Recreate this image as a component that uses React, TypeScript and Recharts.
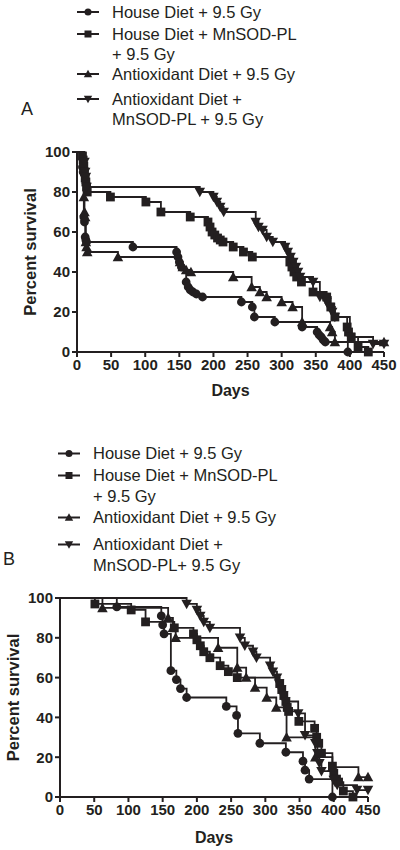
import { Line, LineChart, XAxis, YAxis } from 'recharts';

const ink = '#231f20';
const font = '"Liberation Sans", Arial, Helvetica, sans-serif';

const xTicks = [0, 50, 100, 150, 200, 250, 300, 350, 400, 450];
const yTicks = [0, 20, 40, 60, 80, 100];

const legendA = ['House Diet + 9.5 Gy', 'House Diet + MnSOD-PL\n+ 9.5 Gy', 'Antioxidant Diet + 9.5 Gy', 'Antioxidant Diet +\nMnSOD-PL + 9.5 Gy'];
const legendB = ['House Diet + 9.5 Gy', 'House Diet + MnSOD-PL\n+ 9.5 Gy', 'Antioxidant Diet + 9.5 Gy', 'Antioxidant Diet +\nMnSOD-PL+ 9.5 Gy'];

// panel A (days, percent survival)
const aHouseDays = [0, 8, 9, 10, 11, 12, 13, 14, 82, 146, 148, 150, 153, 160, 163, 166, 170, 175, 184, 241, 257, 260, 290, 330, 352, 355, 358, 361, 364, 397];
const aHouseSurv = [100, 92.5, 90, 67.5, 65, 57.5, 56, 55, 52.5, 50, 47.5, 45, 42.5, 35, 32.5, 31, 30, 29, 27.5, 25, 22.5, 17.5, 15, 12.5, 10, 8.5, 7.5, 6, 5, 0];
const aMnDays = [0, 8, 9, 10, 11, 12, 13, 14, 15, 49, 101, 123, 166, 192, 195, 198, 202, 206, 210, 214, 229, 244, 257, 312, 315, 318, 322, 329, 346, 366, 372, 378, 396, 398, 402, 412, 427];
const aMnSurv = [100, 98, 96, 93, 90, 87, 85, 82.5, 80, 77.5, 75, 70, 67.5, 65, 62.5, 60, 58.5, 57, 56, 55, 52.5, 50, 47.5, 45, 42.5, 40, 37.5, 35, 30, 27.5, 22.5, 17.5, 12.5, 10, 7.5, 2.5, 0];
const aAoxDays = [0, 10, 11, 12, 13, 14, 15, 60, 151, 155, 160, 167, 229, 256, 268, 278, 300, 316, 330, 371, 374, 378, 450];
const aAoxSurv = [100, 77.5, 70, 67.5, 55, 52.5, 50, 47.5, 45, 42.5, 41, 40, 37.5, 32.5, 30, 27.5, 25, 22.5, 15, 12.5, 10, 5, 5];
const aAoxMnDays = [0, 11, 12, 13, 14, 180, 200, 205, 210, 215, 262, 266, 272, 278, 287, 305, 309, 313, 317, 321, 324, 327, 346, 356, 366, 370, 374, 378, 400, 434, 450];
const aAoxMnSurv = [100, 95, 90, 87.5, 82.5, 80, 77.5, 75, 72.5, 70, 65, 62.5, 61, 57.5, 55, 52.5, 50, 47.5, 45, 42.5, 40, 37.5, 35, 27.5, 25, 22.5, 20, 17.5, 7.5, 4, 4];

// panel B
const bHouseDays = [0, 83, 148, 150, 152, 162, 170, 176, 185, 243, 258, 260, 292, 330, 355, 358, 364, 398];
const bHouseSurv = [100, 95.5, 91, 86.5, 82, 63.5, 59, 54.5, 50, 45.5, 41, 32, 27, 22.5, 18, 13.5, 9, 0];
const bMnDays = [0, 51, 104, 125, 167, 195, 200, 205, 210, 219, 234, 246, 259, 321, 324, 327, 330, 332, 334, 349, 372, 375, 378, 382, 398, 400, 404, 407, 414, 428];
const bMnSurv = [100, 97, 94, 88, 85, 82, 79, 76, 73, 70, 66, 63, 60, 57, 54, 51, 48, 45, 43, 38, 34.5, 30, 27, 22, 15.5, 12, 9, 7.5, 3, 0];
const bAoxDays = [0, 62, 158, 165, 169, 231, 259, 272, 285, 302, 316, 331, 373, 398, 436, 450];
const bAoxSurv = [100, 95, 90, 85, 80, 75, 65, 60, 55, 50, 45, 30, 20, 15, 10, 10];
const bAoxMnDays = [0, 185, 200, 205, 210, 219, 263, 270, 282, 287, 307, 311, 317, 320, 323, 326, 329, 348, 358, 373, 376, 379, 382, 400, 405, 434, 450];
const bAoxMnSurv = [100, 97, 94, 91, 88, 85, 80, 76, 73, 70, 66, 63, 60, 57, 54, 51, 48, 42, 31, 27, 22, 17, 13, 8.5, 6, 3.5, 3.5];

type Shape = 'circle' | 'square' | 'up' | 'down';
const shapes: Shape[] = ['circle', 'square', 'up', 'down'];

const toRows = (days: number[], surv: number[]) => days.map((day, i) => ({ day, surv: surv[i] }));

const seriesA = [toRows(aHouseDays, aHouseSurv), toRows(aMnDays, aMnSurv), toRows(aAoxDays, aAoxSurv), toRows(aAoxMnDays, aAoxMnSurv)];
const seriesB = [toRows(bHouseDays, bHouseSurv), toRows(bMnDays, bMnSurv), toRows(bAoxDays, bAoxSurv), toRows(bAoxMnDays, bAoxMnSurv)];

function Marker({ shape, cx, cy, r }: { shape: Shape; cx: number; cy: number; r: number }) {
  if (shape === 'circle') return <circle cx={cx} cy={cy} r={r} fill={ink} />;
  if (shape === 'square') return <rect x={cx - r} y={cy - r} width={r * 2} height={r * 2} fill={ink} />;
  const h = r * 1.2;
  if (shape === 'up') return <polygon points={`${cx},${cy - h} ${cx - h},${cy + h * 0.8} ${cx + h},${cy + h * 0.8}`} fill={ink} />;
  return <polygon points={`${cx},${cy + h} ${cx - h},${cy - h * 0.8} ${cx + h},${cy - h * 0.8}`} fill={ink} />;
}

// first point is the 100% start, no symbol there
const dotFor = (shape: Shape) => (props: any) => {
  const { cx, cy, index } = props;
  if (index === 0 || cx == null || cy == null) return <g key={`d-${index}`} />;
  return (
    <g key={`d-${index}`}>
      <Marker shape={shape} cx={cx} cy={cy} r={4.4} />
    </g>
  );
};

function Legend({ labels, left, textLeft, tops, lineHeight }: { labels: string[]; left: number; textLeft: number; tops: number[]; lineHeight: number }) {
  return (
    <>
      {labels.map((label, i) => (
        <div key={label + i} style={{ position: 'absolute', left, top: tops[i], width: 320 }}>
          <svg width={24} height={lineHeight} style={{ position: 'absolute', left: 0, top: 0 }}>
            <line x1={0} x2={22} y1={lineHeight / 2} y2={lineHeight / 2} stroke={ink} strokeWidth={2} />
            <Marker shape={shapes[i]} cx={11} cy={lineHeight / 2} r={3.5} />
          </svg>
          <div style={{ position: 'absolute', left: textLeft - left, top: 0, fontSize: 16.5, lineHeight: `${lineHeight}px`, whiteSpace: 'pre' }}>{label}</div>
        </div>
      ))}
    </>
  );
}

interface PanelProps {
  top: number;
  series: { day: number; surv: number }[][];
  axisLeft: number;
  plotTop: number;
  plotRight: number;
  xAxisHeight: number;
  yLabelX: number;
  daysY: number;
}

function Panel({ top, series, axisLeft, plotTop, plotRight, xAxisHeight, yLabelX, daysY }: PanelProps) {
  const width = 400;
  const height = 270;
  const plotH = height - plotTop - xAxisHeight;
  const centerX = (axisLeft + (width - plotRight)) / 2;
  const tickStyle = { fill: ink, fontSize: 15, fontWeight: 700, fontFamily: font };
  return (
    <div style={{ position: 'absolute', left: 0, top }}>
      <LineChart width={width} height={height} margin={{ top: plotTop, right: plotRight, bottom: 0, left: 0 }}>
        <XAxis
          type="number"
          dataKey="day"
          domain={[0, 450]}
          ticks={xTicks}
          interval={0}
          height={xAxisHeight}
          axisLine={{ stroke: ink, strokeWidth: 2 }}
          tickLine={{ stroke: ink, strokeWidth: 2 }}
          tickSize={5}
          tickMargin={2}
          tick={tickStyle}
          label={{
            content: () => (
              <text x={centerX} y={daysY} textAnchor="middle" dominantBaseline="central" fill={ink} fontSize={16} fontWeight={700} fontFamily={font}>
                Days
              </text>
            ),
          }}
        />
        <YAxis
          type="number"
          domain={[0, 100]}
          ticks={yTicks}
          interval={0}
          width={axisLeft}
          axisLine={{ stroke: ink, strokeWidth: 2 }}
          tickLine={{ stroke: ink, strokeWidth: 2 }}
          tickSize={5}
          tickMargin={2}
          tick={tickStyle}
          label={{
            content: () => (
              <text
                x={yLabelX}
                y={plotTop + plotH / 2}
                transform={`rotate(-90 ${yLabelX} ${plotTop + plotH / 2})`}
                textAnchor="middle"
                dominantBaseline="central"
                fill={ink}
                fontSize={16.5}
                fontWeight={700}
                fontFamily={font}
              >
                Percent survival
              </text>
            ),
          }}
        />
        {series.map((rows, i) => (
          <Line
            key={shapes[i]}
            data={rows}
            dataKey="surv"
            type="stepAfter"
            stroke={ink}
            strokeWidth={1.8}
            dot={dotFor(shapes[i])}
            activeDot={false}
            isAnimationActive={false}
          />
        ))}
      </LineChart>
    </div>
  );
}

export default function App() {
  return (
    <div style={{ position: 'absolute', left: 0, top: 0, width: 400, height: 850, background: '#fff', color: ink, fontFamily: font, overflow: 'hidden' }}>
      <Legend labels={legendA} left={77} textLeft={112} tops={[2, 24, 64, 89]} lineHeight={20} />
      <div style={{ position: 'absolute', left: 21, top: 99, fontSize: 18, lineHeight: '20px' }}>A</div>
      <Panel top={140} series={seriesA} axisLeft={77} plotTop={12} plotRight={16} xAxisHeight={58} yLabelX={30} daysY={250} />

      <Legend labels={legendB} left={58} textLeft={93} tops={[443, 465, 507, 534]} lineHeight={21} />
      <div style={{ position: 'absolute', left: 3, top: 549, fontSize: 18, lineHeight: '20px' }}>B</div>
      <Panel top={580} series={seriesB} axisLeft={60} plotTop={18} plotRight={32} xAxisHeight={53} yLabelX={13} daysY={257} />
    </div>
  );
}
